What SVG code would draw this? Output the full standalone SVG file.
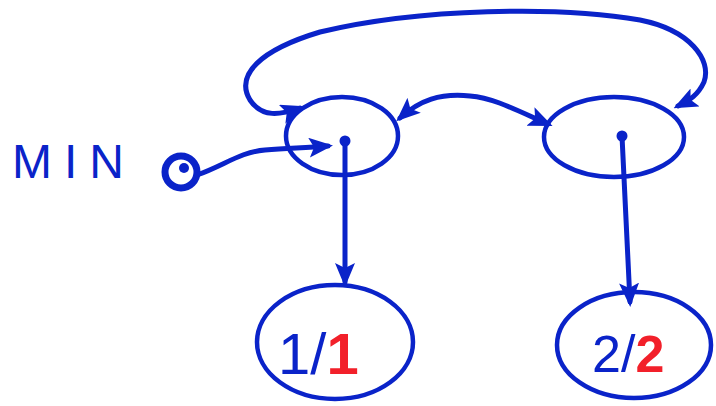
<svg xmlns="http://www.w3.org/2000/svg" width="716" height="406" viewBox="0 0 716 406">
<style>
.ln{fill:none;stroke:#0a23c9;stroke-width:5;stroke-linecap:round;stroke-linejoin:round}
.nd{fill:none;stroke:#0a23c9;stroke-width:4.5}
.lbl{font-family:"Liberation Sans",Arial,sans-serif;font-size:54px;fill:#0a23c9}
.red{fill:#f2202a;font-weight:bold}
.dot{fill:#0a23c9}
</style>
<defs>
<marker id="ah" markerWidth="24" markerHeight="20" refX="19" refY="10" orient="auto-start-reverse" markerUnits="userSpaceOnUse">
<path d="M0,0 L24,10 L0,20 L5,10 Z" fill="#0a23c9"/>
</marker>
</defs>
<rect width="716" height="406" fill="#ffffff"/>
<g id="min">
<text x="12" y="178" class="lbl" style="font-size:48px;letter-spacing:12px">MIN</text>
<circle cx="181" cy="172" r="16" class="nd" style="stroke-width:7"/>
<circle cx="184" cy="168" r="5" class="dot"/>
</g>
<g id="n1">
<ellipse cx="342" cy="136" rx="56" ry="39" class="nd"/>
<circle cx="345" cy="141" r="5.5" class="dot"/>
</g>
<g id="n2">
<ellipse cx="614" cy="137" rx="70" ry="40" class="nd"/>
<circle cx="622" cy="136" r="5.5" class="dot"/>
</g>
<g id="n3">
<ellipse cx="335" cy="342" rx="78" ry="57" class="nd"/>
<text x="278" y="374" class="lbl" style="font-size:58px">1/<tspan class="red">1</tspan></text>
</g>
<g id="n4">
<ellipse cx="634" cy="345" rx="77" ry="53" class="nd"/>
<text x="592" y="372" class="lbl" style="font-size:52px">2/<tspan class="red">2</tspan></text>
</g>
<g id="connectors">
<path d="M197,175 C225,165 240,152 265,150 C290,148 305,148 328,146" class="ln" marker-end="url(#ah)"/>
<path d="M345,141 L345,282" class="ln" marker-end="url(#ah)"/>
<path d="M622,136 L630,302" class="ln" marker-end="url(#ah)"/>
<path d="M400,118 C420,100 440,93 470,96 C495,98 520,112 548,124" class="ln" marker-start="url(#ah)" marker-end="url(#ah)"/>
<path d="M300,108 C280,115 262,118 250,100 C235,75 260,50 320,32 C420,8 560,6 640,20 C690,30 712,60 704,82 C698,95 690,100 678,106" class="ln" marker-start="url(#ah)" marker-end="url(#ah)"/>
</g>
</svg>
